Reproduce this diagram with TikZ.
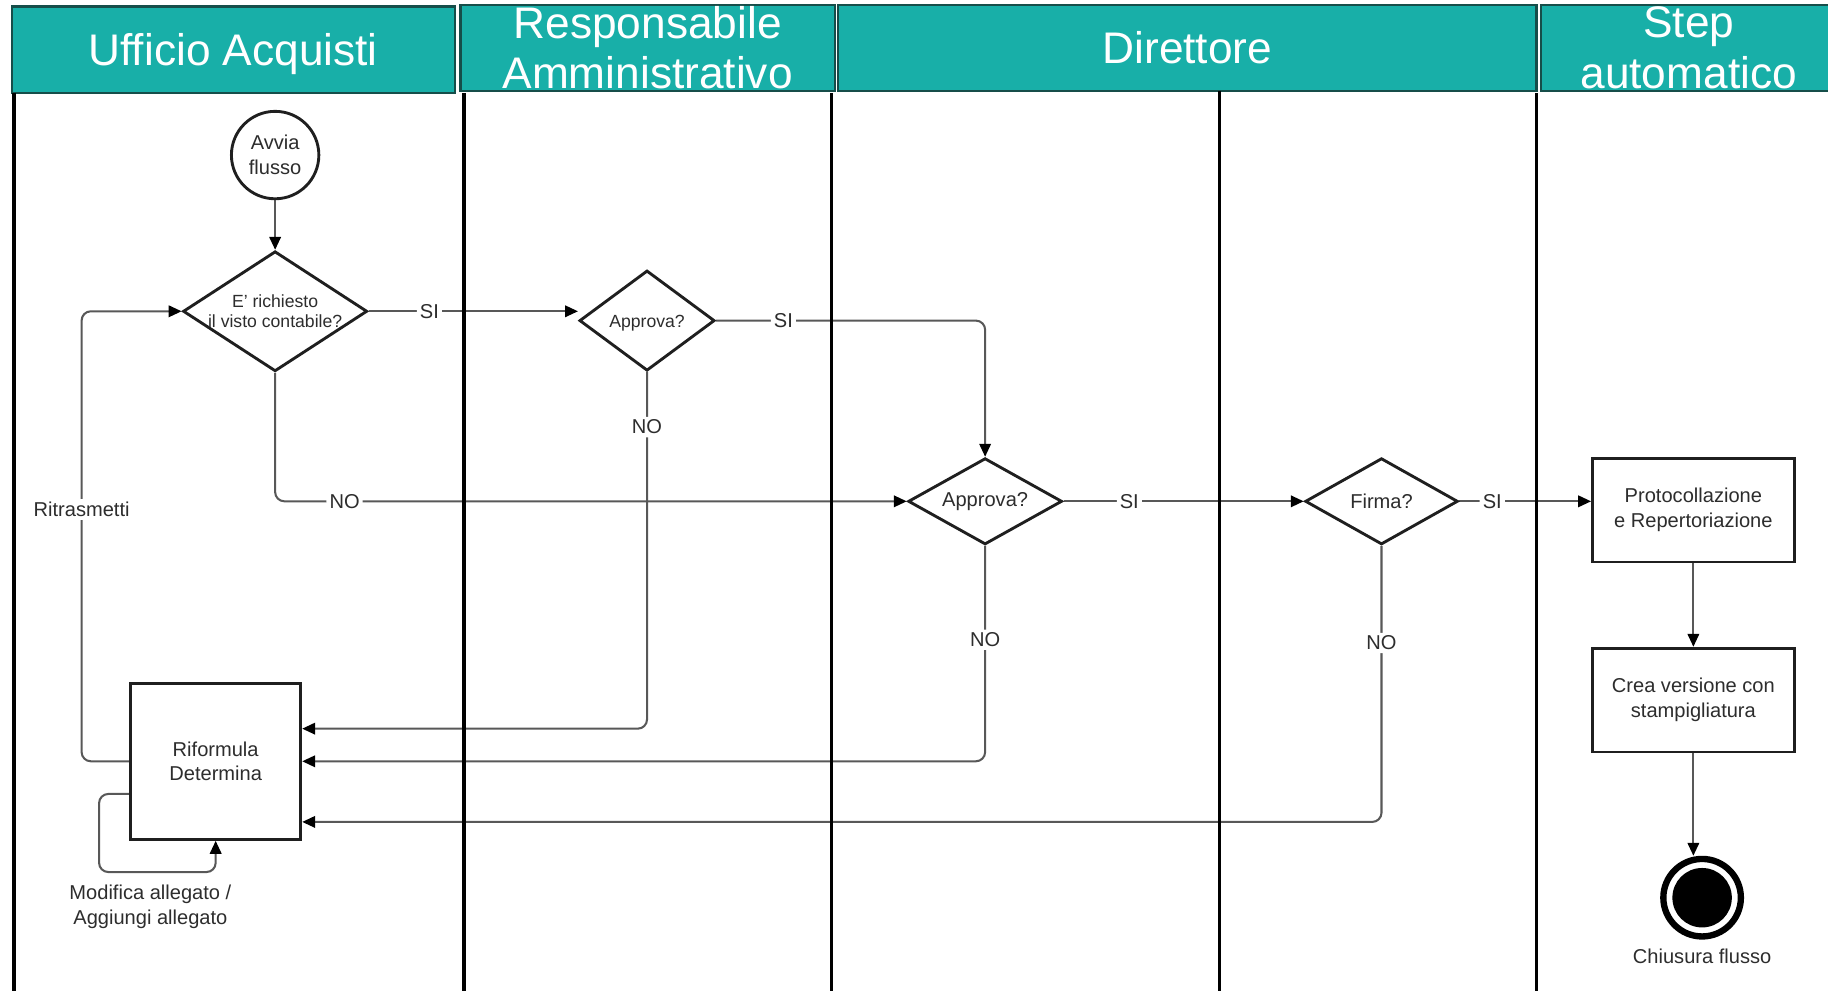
\documentclass[tikz,border=0pt]{standalone}
\usepackage{fontspec}
\setmainfont{Liberation Sans}
\usetikzlibrary{shapes.geometric,arrows.meta}
\pgfdeclarelayer{bg}
\pgfsetlayers{bg,main}
\definecolor{headteal}{RGB}{24,175,168}
\definecolor{headline}{RGB}{22,78,74}
\definecolor{flowgray}{RGB}{88,88,88}
\definecolor{inkgray}{RGB}{45,45,45}
\tikzset{every label/.style={shape=rectangle, draw=none, fill=none, inner sep=0pt, text=inkgray, align=center, font=\fontsize{9.8pt}{12pt}\selectfont}}
\tikzset{
    lanehead/.style={rectangle, fill=headteal, draw=headline, line width=1.1pt, text=white, inner sep=0pt, outer sep=0pt, minimum height=1.48cm, align=center, font=\fontsize{21.6pt}{24.5pt}\selectfont},
    decision/.style={diamond, draw=black!88, fill=white, line width=1.4pt, inner sep=0pt},
    task/.style={rectangle, draw=black!88, fill=white, line width=1.4pt, inner sep=0pt, align=center, text=inkgray, font=\fontsize{9.8pt}{12pt}\selectfont},
    terminal/.style={circle, draw=black!88, fill=white, line width=1.4pt, inner sep=0pt, align=center, text=inkgray, font=\fontsize{9.8pt}{12pt}\selectfont},
    flow/.style={draw=flowgray, line width=1pt, rounded corners=4.5pt, -{Triangle[length=6.3pt, width=5.6pt, color=black]}},
    lbl/.style={fill=white, inner sep=1.5pt, text=inkgray, align=center, font=\fontsize{9.8pt}{12pt}\selectfont},
    lane/.style={line width=1.5pt}
}
\newcommand{\smalltxt}{\fontsize{8.6pt}{9.8pt}\selectfont}

\begin{document}
\begin{tikzpicture}
        \useasboundingbox (0cm, 0cm) rectangle (31.360000cm, -16.984000cm);
        % lane headers
        \node (h1) [lanehead, minimum width=7.600000cm, text depth=0pt] at (4.000000cm, -0.850000cm) {Ufficio Acquisti};
        \node (h2) [lanehead, minimum width=6.420000cm] at (11.110000cm, -0.820000cm) {Responsabile\\Amministrativo};
        \node (h3) [lanehead, minimum width=11.980000cm, text depth=0pt] at (20.370000cm, -0.820000cm) {Direttore};
        \node (h4) [lanehead, minimum width=5.060000cm] at (28.970000cm, -0.820000cm) {Step\\automatico};
        % steps
        \node (s) [terminal, minimum size=1.500000cm] at (4.720000cm, -2.660000cm) {Avvia\\flusso};
        \node (d1) [decision, minimum width=3.160000cm, minimum height=2.060000cm, label={[font=\smalltxt]center:{E' richiesto\\il visto contabile?}}] at (4.720000cm, -5.340000cm) {};
        \node (d2) [decision, minimum width=2.320000cm, minimum height=1.720000cm, label={[font=\smalltxt, yshift=-0.05cm]center:{Approva?}}] at (11.100000cm, -5.500000cm) {};
        \node (d3) [decision, minimum width=2.640000cm, minimum height=1.480000cm, label=center:{Approva?}] at (16.900000cm, -8.600000cm) {};
        \node (d4) [decision, minimum width=2.620000cm, minimum height=1.480000cm, label=center:{Firma?}] at (23.700000cm, -8.600000cm) {};
        \node (b1) [task, minimum width=3.460000cm, minimum height=1.780000cm] at (29.050000cm, -8.750000cm) {Protocollazione\\e Repertoriazione};
        \node (b2) [task, minimum width=3.460000cm, minimum height=1.780000cm] at (29.050000cm, -12.010000cm) {Crea versione con\\stampigliatura};
        \node (b3) [task, minimum width=2.920000cm, minimum height=2.680000cm] at (3.700000cm, -13.060000cm) {Riformula\\Determina};
        \node (e) [circle, draw=black, line width=3.1pt, minimum size=1.330000cm, inner sep=0pt, path picture={\fill[black] (path picture bounding box.center) circle (0.51cm);}, label={[label distance=4.5pt]below:{Chiusura flusso}}] at (29.200000cm, -15.400000cm) {};
        \node (ml) [lbl, fill=none] at (2.580000cm, -15.560000cm) {Modifica allegato /\\Aggiungi allegato};
        \coordinate (r1) at ([yshift=0.56cm]b3.east);
        \coordinate (r3) at ([yshift=-1.04cm]b3.east);
        \coordinate (r4) at ([yshift=-0.56cm]b3.west);
        \coordinate (rt) at (1.400000cm, -8.740000cm);
        \coordinate (lp) at (1.700000cm, -14.960000cm);
        % lanes
        \draw [lane] (0.240000cm, -1.600000cm) -- (0.240000cm, -17.100000cm);
        \draw [lane] (7.960000cm, -1.600000cm) -- (7.960000cm, -17.100000cm);
        \draw [lane] (14.260000cm, -1.600000cm) -- (14.260000cm, -17.100000cm);
        \draw [lane] (20.920000cm, -1.560000cm) -- (20.920000cm, -17.100000cm);
        \draw [lane] (26.360000cm, -1.600000cm) -- (26.360000cm, -17.100000cm);
        \begin{pgfonlayer}{bg}
                \draw (s) edge [flow] (d1);
                \draw [flow] (d1.east) -- node [lbl, pos=0.29] {SI} (d1.east -| d2.west);
                \draw [flow] (d2.east) -| node [lbl, pos=0.125] {SI} (d3.north);
                \draw [flow] (d1.south) |- node [lbl, pos=0.555] {NO} (d3.west);
                \draw (d3) edge [flow] node [lbl, pos=0.274] {SI} (d4);
                \draw [flow] (d4.east) -- node [lbl, pos=0.25] {SI} (d4.east -| b1.west);
                \draw [flow] (d2.south) |- node [lbl, pos=0.077] {NO} (r1);
                \draw [flow] (d3.south) |- node [lbl, pos=0.218] {NO} (b3.east);
                \draw [flow] (d4.south) |- node [lbl, pos=0.176] {NO} (r3);
                \draw (b1) edge [flow] (b2);
                \draw [flow] (b2.south) -- (b2.south |- e.north);
                \draw [flow] (b3.west) -| (rt) node [lbl] {Ritrasmetti} |- (d1.west);
                \draw [flow] (r4) -| (lp) -| (b3.south);
        \end{pgfonlayer}
\end{tikzpicture}
\end{document}
